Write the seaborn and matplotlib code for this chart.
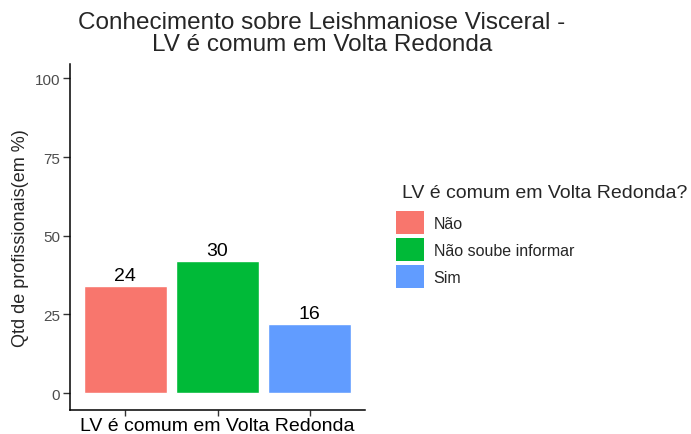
import matplotlib
matplotlib.use("Agg")
import matplotlib.pyplot as plt
import seaborn as sns
import pandas as pd
from matplotlib.patches import Patch

categories = ["Não", "Não soube informar", "Sim"]
percentages = [33.9, 41.9, 21.9]
counts = [24, 30, 16]
colors = ["#F8766D", "#00BA38", "#619CFF"]
y_ticks = [0, 25, 50, 75, 100]

sns.set_style("white")
plt.rcParams['font.family'] = ['Liberation Sans', 'DejaVu Sans']

df = pd.DataFrame({"cat": categories, "pct": percentages, "n": counts})

fig = plt.figure(figsize=(6.91, 4.35), dpi=100)
ax = fig.add_axes([70/691, 1-411/435, (365-70)/691, (411-65)/435])

sns.barplot(data=df, x="cat", y="pct", hue="cat", palette=colors, dodge=False,
            width=0.9, ax=ax, legend=False, saturation=1)

for i, (p, n) in enumerate(zip(percentages, counts)):
    ax.text(i, p + 0.8, str(n), ha="center", va="bottom", fontsize=14, color="black")

ax.set_xlim(-0.6, 2.6)
ax.set_ylim(-5.4, 104.6)
ax.set_yticks(y_ticks)
ax.set_yticklabels([str(v) for v in y_ticks], fontsize=11, color="#4d4d4d")
ax.set_xticks([0, 1, 2])
ax.set_xticklabels(["", "LV é comum em Volta Redonda", ""], fontsize=14, color="black")
ax.set_xlabel("")
ax.set_ylabel("Qtd de profissionais(em %)", fontsize=13, labelpad=4)
ax.tick_params(axis="y", direction="out", length=5, width=1, color="#333333", left=True, pad=2)
ax.tick_params(axis="x", direction="out", length=4, width=1, color="#333333", bottom=True, pad=1)
for s in ["top", "right"]:
    ax.spines[s].set_visible(False)
for s in ["left", "bottom"]:
    ax.spines[s].set_color("black")
    ax.spines[s].set_linewidth(1.1)

fig.text(322/691, 1-12/435, "Conhecimento sobre Leishmaniose Visceral -\nLV é comum em Volta Redonda",
         ha="center", va="top", fontsize=17.5, linespacing=1.0)

# legend title
fig.text(402/691, 1-198/435, "LV é comum em Volta Redonda?", ha="left", va="baseline", fontsize=14)

handles = [Patch(facecolor=c, edgecolor="none") for c in colors]
fig.legend(handles, categories,
           loc="upper left", bbox_to_anchor=(396/691, 1-212/435), frameon=False,
           fontsize=11.5, handlelength=1.75, handleheight=1.86,
           labelspacing=0.24, handletextpad=0.6, borderpad=0, borderaxespad=0)

fig.savefig("out.png", dpi=100, facecolor="white")
